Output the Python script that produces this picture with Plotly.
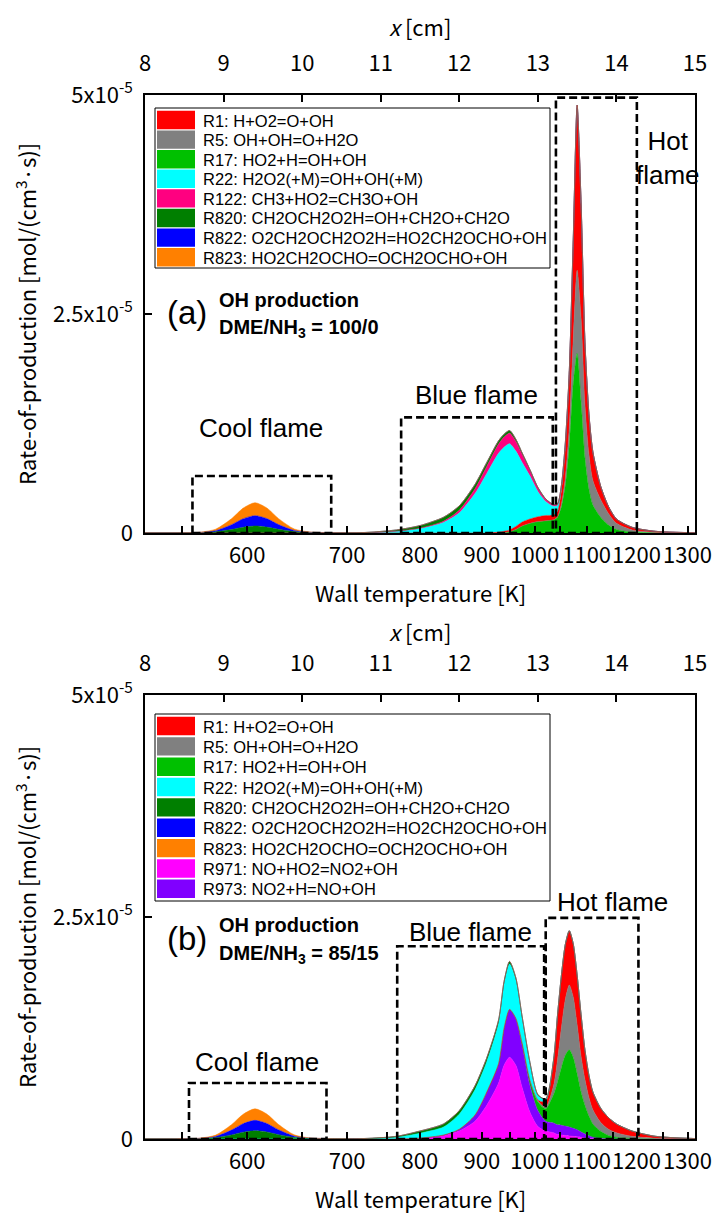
import plotly.graph_objects as go

W, H = 725, 1214

# ---------------- data ----------------
# position along the channel [cm]
x_cm = [8.0, 8.4, 8.7, 8.9, 9.1, 9.25, 9.4, 9.55, 9.7, 9.9,
        10.1, 10.4, 10.8, 11.2, 11.5, 11.8, 12.0, 12.2, 12.35, 12.5,
        12.57, 12.64, 12.72, 12.8, 12.9, 13.0, 13.1, 13.2, 13.25, 13.3,
        13.35, 13.4, 13.45, 13.5, 13.55, 13.6, 13.65, 13.7, 13.8, 13.9,
        14.0, 14.2, 14.5, 15.0]

# wall temperature profile (for the bottom axis)
wall_T = [550, 600, 650, 700, 750, 800, 850, 900, 950, 1000, 1050, 1100, 1150, 1200, 1250, 1300]
wall_x_cm = [8.475, 9.301, 10.0, 10.572, 11.081, 11.499, 11.906, 12.287, 12.643, 12.961,
             13.278, 13.621, 13.951, 14.256, 14.587, 14.905]
x_ticks_cm = [8, 9, 10, 11, 12, 13, 14, 15]
y_ticks = [0, 2.5e-5, 5e-5]
y_ticktext = ["0", "2.5x10<sup>-5</sup>", "5x10<sup>-5</sup>"]

# rates of production, unit 1e-6 mol/(cm3 s)
# panel (a) DME/NH3 = 100/0
a_R17 = [0,0,0,0,0,0,0,0,0,0, 0,0,0,0,0,0,0,0,0,0,
         0.05,0.15,0.4,0.8,1.1,1.3,1.4,1.5,1.8,3.0,
         5.5,10,17,20.5,15,8.5,5,3.2,1.8,0.9, 0.4,0.1,0.02,0]
a_R5 = [0,0,0,0,0,0,0,0,0,0, 0,0,0,0,0,0,0,0,0,0,
        0,0,0,0,0,0,0,0,0.05,0.3,
        0.8,2.0,5.0,9.5,9.5,6.0,4.0,2.8,2.0,1.3, 0.7,0.25,0.05,0]
a_R1 = [0,0,0,0,0,0,0,0,0,0, 0,0,0,0,0,0,0,0,0,0.1,
        0.15,0.2,0.35,0.45,0.5,0.55,0.6,0.55,0.6,1.5,
        3.5,6.0,11.0,18.5,13.0,7.0,4.5,3.2,1.5,0.8, 0.5,0.3,0.12,0.03]
a_R22 = [0,0,0,0,0,0,0,0,0,0, 0,0,0,0.2,0.5,1.2,2.3,4.5,6.8,9.0,
         9.6,9.85,8.6,6.8,4.9,2.9,1.6,1.0,0.7,0.45,
         0.3,0.2,0.1,0.05,0.02,0,0,0,0,0, 0,0,0,0]
a_R122 = [0,0,0,0,0,0,0,0,0,0, 0,0,0,0,0.05,0.15,0.3,0.55,0.8,1.05,
          1.15,1.2,1.1,0.9,0.6,0.4,0.25,0.18,0.16,0.2,
          0.25,0.3,0.3,0.3,0.25,0.2,0.12,0.08,0.03,0.01, 0,0,0,0]
a_R820 = [0.02,0.02,0.05,0.14,0.4,0.66,0.8,0.68,0.42,0.16,
          0.07,0.04,0.06,0.15,0.3,0.45,0.5,0.5,0.45,0.38,
          0.33,0.3,0.25,0.2,0.12,0.07,0.04,0.02,0.01,0,
          0,0,0,0,0,0,0,0,0,0, 0,0,0,0]
a_R822 = [0,0,0.02,0.13,0.54,0.97,1.18,0.97,0.54,0.13,
          0.02,0,0,0,0,0,0,0,0,0, 0,0,0,0,0,0,0,0,0,0,
          0,0,0,0,0,0,0,0,0,0, 0,0,0,0]
a_R823 = [0,0,0.02,0.17,0.68,1.21,1.48,1.21,0.68,0.17,
          0.03,0,0,0,0,0,0,0,0,0, 0,0,0,0,0,0,0,0,0,0,
          0,0,0,0,0,0,0,0,0,0, 0,0,0,0]

# panel (b) DME/NH3 = 85/15
b_R971 = [0,0,0,0,0,0,0,0,0,0, 0,0,0,0,0.1,0.4,0.9,2.0,3.8,6.3,
          8.3,9.2,8.3,5.8,3.0,1.4,0.9,0.7,0.5,0.45,
          0.4,0.35,0.3,0.25,0.2,0.12,0.08,0.05,0.02,0, 0,0,0,0]
b_R973 = [0,0,0,0,0,0,0,0,0,0, 0,0,0,0,0,0.05,0.2,0.7,1.5,2.2,
          4.2,5.4,5.2,4.7,3.0,1.8,1.1,1.1,1.1,1.1,
          1.05,1.0,0.9,0.8,0.6,0.45,0.3,0.15,0.05,0, 0,0,0,0]
b_R17 = [0,0,0,0,0,0,0,0,0,0, 0,0,0,0,0,0,0,0,0,0,
         0,0,0.1,0.3,0.6,1.0,1.4,3.2,4.8,6.5,
         8.0,8.7,8.0,6.3,4.5,3.2,2.2,1.5,0.8,0.4, 0.2,0.05,0,0]
b_R5 = [0,0,0,0,0,0,0,0,0,0, 0,0,0,0,0,0,0,0,0,0,
        0,0,0,0,0,0.1,0.2,1.0,2.5,4.5,
        6.3,7.3,6.8,5.5,4.0,2.9,2.1,1.6,1.0,0.7, 0.5,0.25,0.08,0.01]
b_R1 = [0,0,0,0,0,0,0,0,0,0, 0,0,0,0,0,0,0,0,0,0,
        0,0,0,0,0,0.1,0.6,2.8,5.0,5.9,
        6.2,6.1,6.0,5.6,4.7,3.3,2.5,2.0,1.6,1.3, 1.0,0.6,0.22,0.04]
b_R22 = [0,0,0,0,0,0,0,0,0,0, 0,0,0,0.18,0.55,0.9,1.7,2.85,3.4,4.5,
         4.9,5.1,4.3,2.8,1.85,0.5,0.25,0.1,0.05,0,
         0,0,0,0,0,0,0,0,0,0, 0,0,0,0]
b_R820 = [0.02,0.03,0.06,0.16,0.46,0.77,0.93,0.79,0.49,0.19,
          0.08,0.05,0.06,0.12,0.25,0.35,0.4,0.45,0.45,0.4,
          0.35,0.3,0.25,0.2,0.15,0.1,0.05,0.02,0,0,
          0,0,0,0,0,0,0,0,0,0, 0,0,0,0]
b_R822 = [0,0,0.02,0.13,0.54,0.96,1.17,0.96,0.54,0.13,
          0.02,0,0,0,0,0,0,0,0,0, 0,0,0,0,0,0,0,0,0,0,
          0,0,0,0,0,0,0,0,0,0, 0,0,0,0]
b_R823 = [0,0,0.02,0.15,0.6,1.06,1.3,1.06,0.6,0.15,
          0.02,0,0,0,0,0,0,0,0,0, 0,0,0,0,0,0,0,0,0,0,
          0,0,0,0,0,0,0,0,0,0, 0,0,0,0]

UNIT = 1e-6

labels = {
    "R1": "R1: H+O2=O+OH",
    "R5": "R5: OH+OH=O+H2O",
    "R17": "R17: HO2+H=OH+OH",
    "R22": "R22: H2O2(+M)=OH+OH(+M)",
    "R122": "R122: CH3+HO2=CH3O+OH",
    "R820": "R820: CH2OCH2O2H=OH+CH2O+CH2O",
    "R822": "R822: O2CH2OCH2O2H=HO2CH2OCHO+OH",
    "R823": "R823: HO2CH2OCHO=OCH2OCHO+OH",
    "R971": "R971: NO+HO2=NO2+OH",
    "R973": "R973: NO2+H=NO+OH",
}
colors = {
    "R1": "#ff0000", "R5": "#808080", "R17": "#00c000", "R22": "#00ffff",
    "R122": "#ff0080", "R820": "#007f00", "R822": "#0000ff", "R823": "#ff8000",
    "R971": "#ff00ff", "R973": "#8000ff",
}

stack_a = [("R17", a_R17), ("R5", a_R5), ("R1", a_R1), ("R22", a_R22),
           ("R122", a_R122), ("R820", a_R820), ("R822", a_R822), ("R823", a_R823)]
stack_b = [("R971", b_R971), ("R973", b_R973), ("R17", b_R17), ("R5", b_R5), ("R1", b_R1),
           ("R22", b_R22), ("R820", b_R820), ("R822", b_R822), ("R823", b_R823)]
legend_a = ["R1", "R5", "R17", "R22", "R122", "R820", "R822", "R823"]
legend_b = ["R1", "R5", "R17", "R22", "R820", "R822", "R823", "R971", "R973"]

fig = go.Figure()

for name, vals in stack_a:
    fig.add_trace(go.Scatter(
        x=x_cm, y=[v * UNIT for v in vals], xaxis="x", yaxis="y",
        stackgroup="a", mode="lines", name=labels[name], showlegend=False,
        line=dict(width=0.5, color=colors[name], shape="spline", smoothing=0.7),
        fillcolor=colors[name]))
for name, vals in stack_b:
    fig.add_trace(go.Scatter(
        x=x_cm, y=[v * UNIT for v in vals], xaxis="x3", yaxis="y2",
        stackgroup="b", mode="lines", name=labels[name], showlegend=False,
        line=dict(width=0.5, color=colors[name], shape="spline", smoothing=0.7),
        fillcolor=colors[name]))

# ---------------- layout ----------------
def px_x(p):
    return p / W

def px_y(p):
    return 1 - p / H

XDOM = [px_x(145), px_x(695)]
YDOM_A = [px_y(533), px_y(95)]
YDOM_B = [px_y(1139), px_y(695)]

tick_font = dict(family="Noto Sans CJK JP", size=22, color="black")
T_text = [str(t) if t % 100 == 0 else "" for t in wall_T]

common_axis = dict(showgrid=False, zeroline=False, showline=True, linecolor="black",
                   linewidth=1.5, ticks="inside", ticklen=7, tickwidth=1.5,
                   tickcolor="black", tickfont=tick_font, automargin=False, tickangle=0)

def bottom_axis(anchor):
    return dict(common_axis, domain=XDOM, range=[8, 15], anchor=anchor,
                tickmode="array", tickvals=wall_x_cm, ticktext=T_text,
                ticklabelstandoff=2)

def top_axis(over, anchor):
    return dict(common_axis, range=[8, 15], overlaying=over, anchor=anchor,
                side="top", tickmode="array", tickvals=x_ticks_cm,
                ticktext=[str(v) for v in x_ticks_cm], ticklabelstandoff=13)

def y_axis(dom, anchor):
    return dict(common_axis, domain=dom, range=[0, 5e-5], anchor=anchor,
                tickmode="array", tickvals=y_ticks, ticktext=y_ticktext,
                mirror=True, ticklabelstandoff=6)

fig.update_layout(
    width=W, height=H, margin=dict(l=0, r=0, t=0, b=0),
    paper_bgcolor="white", plot_bgcolor="white", showlegend=False,
    xaxis=bottom_axis("y"), xaxis2=top_axis("x", "y"),
    xaxis3=bottom_axis("y2"), xaxis4=top_axis("x3", "y2"),
    yaxis=y_axis(YDOM_A, "x"), yaxis2=y_axis(YDOM_B, "x3"),
)
# dummy traces so the top axes are rendered
fig.add_trace(go.Scatter(x=[8, 15], y=[None, None], xaxis="x2", yaxis="y",
                         mode="lines", showlegend=False, hoverinfo="skip"))
fig.add_trace(go.Scatter(x=[8, 15], y=[None, None], xaxis="x4", yaxis="y2",
                         mode="lines", showlegend=False, hoverinfo="skip"))

annotations = []
shapes = []

axis_font = dict(family="Noto Sans CJK JP", size=22, color="black")
for ytitle, xtop, ycenter in [(592, 26, 314), (1198, 631, 917)]:
    annotations.append(dict(text="Wall temperature [K]", x=px_x(420), y=px_y(ytitle),
                            xref="paper", yref="paper", showarrow=False, font=axis_font,
                            xanchor="center", yanchor="middle"))
    annotations.append(dict(text="<i>x</i> [cm]", x=px_x(420), y=px_y(xtop),
                            xref="paper", yref="paper", showarrow=False, font=axis_font,
                            xanchor="center", yanchor="middle"))
    annotations.append(dict(text="Rate-of-production [mol/(cm<sup>3</sup>·s)]",
                            x=px_x(25), y=px_y(ycenter), xref="paper", yref="paper",
                            showarrow=False, font=axis_font, textangle=-90,
                            xanchor="center", yanchor="middle"))

# legends (drawn as boxes + text)
leg_font = dict(family="Liberation Sans, Arial", size=16.5, color="black")
def draw_legend(keys, top, bottom, first_center, step):
    shapes.append(dict(type="rect", xref="paper", yref="paper",
                       x0=px_x(155), x1=px_x(550), y0=px_y(bottom), y1=px_y(top),
                       line=dict(color="black", width=1), fillcolor="white", layer="above"))
    for i, k in enumerate(keys):
        c = first_center + i * step
        shapes.append(dict(type="rect", xref="paper", yref="paper",
                           x0=px_x(157), x1=px_x(195), y0=px_y(c + 9.2), y1=px_y(c - 9.2),
                           line=dict(width=0), fillcolor=colors[k], layer="above"))
        annotations.append(dict(text=labels[k], x=px_x(201), y=px_y(c + 0.5), xref="paper",
                                yref="paper", showarrow=False, font=leg_font,
                                xanchor="left", yanchor="middle"))

draw_legend(legend_a, 108, 268, 120, 19.6)
draw_legend(legend_b, 714, 901, 726, 20.35)

# flame region boxes (data coordinates)
dash = dict(color="black", width=2.6, dash="8px,4px")
boxes_a = [(8.604, 10.37, 6.5e-6), (11.26, 13.19, 1.32e-5), (13.23, 14.26, 4.97e-5)]
boxes_b = [(8.56, 10.31, 6.3e-6), (11.21, 13.08, 2.17e-5), (13.10, 14.28, 2.49e-5)]
for x0, x1, y1 in boxes_a:
    shapes.append(dict(type="rect", xref="x", yref="y", x0=x0, x1=x1, y0=0, y1=y1,
                       line=dash, fillcolor="rgba(0,0,0,0)", layer="above"))
for x0, x1, y1 in boxes_b:
    shapes.append(dict(type="rect", xref="x3", yref="y2", x0=x0, x1=x1, y0=0, y1=y1,
                       line=dash, fillcolor="rgba(0,0,0,0)", layer="above"))

flame_font = dict(family="Liberation Sans, Arial", size=26, color="black")
for txt, xp, yp in [("Cool flame", 261, 428), ("Blue flame", 476, 395),
                    ("Hot<br>flame", 668, 158),
                    ("Cool flame", 257, 1062), ("Blue flame", 470, 932),
                    ("Hot flame", 612, 902)]:
    annotations.append(dict(text=txt, x=px_x(xp), y=px_y(yp), xref="paper", yref="paper",
                            showarrow=False, font=flame_font, xanchor="center",
                            yanchor="middle"))

bold_font = dict(family="Liberation Sans, Arial", size=20, color="black")
big_font = dict(family="Liberation Sans, Arial", size=33, color="black")
for tag, ratio, ytag in [("(a)", "100/0", 313), ("(b)", "85/15", 938)]:
    annotations.append(dict(text=tag, x=px_x(165), y=px_y(ytag), xref="paper", yref="paper",
                            showarrow=False, font=big_font, xanchor="left", yanchor="middle"))
    annotations.append(dict(text="<b>OH production</b>", x=px_x(217), y=px_y(ytag - 13),
                            xref="paper", yref="paper", showarrow=False, font=bold_font,
                            xanchor="left", yanchor="middle"))
    annotations.append(dict(text="<b>DME/NH<sub>3</sub> = " + ratio + "</b>", x=px_x(217),
                            y=px_y(ytag + 16), xref="paper", yref="paper", showarrow=False,
                            font=bold_font, xanchor="left", yanchor="middle"))

fig.update_layout(annotations=annotations, shapes=shapes)
fig.write_html("out.html")
